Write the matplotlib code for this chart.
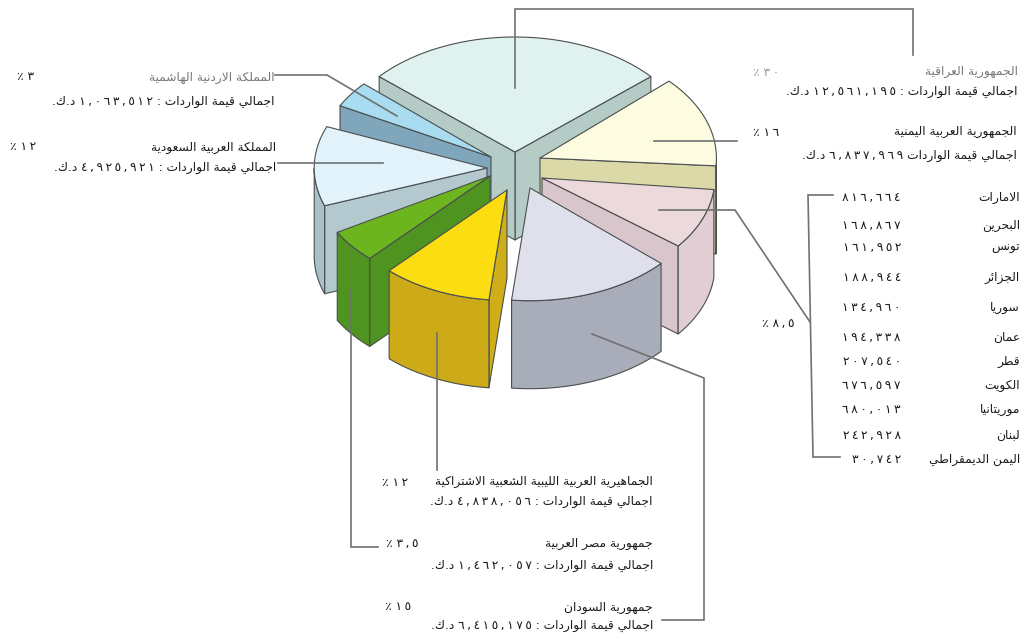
import re
import numpy as np
import matplotlib
matplotlib.use("Agg")
import matplotlib.pyplot as plt
from matplotlib.patches import Polygon

# ---------- data ----------
countries = ["الجمهورية العراقية", "الجمهورية العربية اليمنية", "", "جمهورية السودان",
             "الجماهيرية العربية الليبية الشعبية الاشتراكية", "جمهورية مصر العربية",
             "المملكة العربية السعودية", "المملكة الاردنية الهاشمية"]
shares = [30, 16, 8.5, 15, 12, 3.5, 12, 3]
totals = [12561195, 6837969, None, 6415175, 4838056, 1462057, 4925921, 1063512]
others_names = ["الامارات", "البحرين", "تونس", "الجزائر", "سوريا", "عمان", "قطر",
                "الكويت", "موريتانيا", "لبنان", "اليمن الديمقراطي"]
others_values = [816664, 168867, 161952, 188944, 134960, 194338, 207540,
                 676597, 680013, 242928, 30742]

# drawn geometry of each slice (the printed pie is hand drawn, not to scale)
theta_lo = [41, -4, -38, -96, -133, -150, 158, 138]
theta_hi = [139, 43, -6, -42, -96, -133, 200, 152]
apex_x = [515, 540, 542, 530, 507, 490, 487, 491]
apex_y = [152, 158, 178, 188, 190, 176, 168, 157]
radius = [1.0, 0.98, 0.96, 0.98, 0.96, 0.98, 0.96, 0.95]
top_col = ["#e0f2ef", "#fdfbe0", "#ecd9dc", "#e0e0ec", "#fbdd12", "#6cb51f", "#e2f2fa", "#a9dcf0"]
face_col = ["#b5cbc5", "#dcd9a8", "#d8c6cc", "#d8d8e0", "#cfae1a", "#4f9420", "#b4c8d0", "#7fa6ba"]
outer_col = ["#b5cbc5", "#dcd9a8", "#e0ced4", "#a9adb9", "#ccaa18", "#4f9420", "#a9c0cb", "#7fa6ba"]
draw_order = [0, 7, 6, 1, 2, 5, 4, 3]
A, B, DEPTH = 180, 115, 88

# ---------- Arabic shaping: matplotlib draws glyphs without joining them ----------
def forms(first, n):
    return [chr(first + i) for i in range(n)]
TABLE = {}
for ch, first, n in [("آ", 0xFE81, 2), ("أ", 0xFE83, 2), ("إ", 0xFE87, 2), ("ئ", 0xFE89, 4),
                     ("ا", 0xFE8D, 2), ("ب", 0xFE8F, 4), ("ة", 0xFE93, 2), ("ت", 0xFE95, 4),
                     ("ج", 0xFE9D, 4), ("ح", 0xFEA1, 4), ("خ", 0xFEA5, 4), ("د", 0xFEA9, 2),
                     ("ذ", 0xFEAB, 2), ("ر", 0xFEAD, 2), ("ز", 0xFEAF, 2), ("س", 0xFEB1, 4),
                     ("ش", 0xFEB5, 4), ("ص", 0xFEB9, 4), ("ض", 0xFEBD, 4), ("ط", 0xFEC1, 4),
                     ("ظ", 0xFEC5, 4), ("ع", 0xFEC9, 4), ("غ", 0xFECD, 4), ("ف", 0xFED1, 4),
                     ("ق", 0xFED5, 4), ("ك", 0xFED9, 4), ("ل", 0xFEDD, 4), ("م", 0xFEE1, 4),
                     ("ن", 0xFEE5, 4), ("ه", 0xFEE9, 4), ("و", 0xFEED, 2), ("ي", 0xFEF1, 4)]:
    TABLE[ch] = forms(first, n)

def shape(text):
    text = text.replace("لا", "\uFEFB")
    out = []
    for i, c in enumerate(text):
        prev = text[i - 1] if i else " "
        nxt = text[i + 1] if i + 1 < len(text) else " "
        if c == "\uFEFB":
            out.append("\uFEFC" if prev in TABLE and len(TABLE[prev]) == 4 else c)
        elif c in TABLE:
            f = TABLE[c]
            join_prev = prev in TABLE and len(TABLE[prev]) == 4
            join_next = nxt in TABLE or nxt == "\uFEFB"
            if len(f) == 2:
                out.append(f[1] if join_prev else f[0])
            elif join_prev and join_next:
                out.append(f[3])
            elif join_prev:
                out.append(f[1])
            elif join_next:
                out.append(f[2])
            else:
                out.append(f[0])
        else:
            out.append(c)
    return "".join(out)

NUM = r"[٠-٩]+(?:,[٠-٩]+)*"
def visual(text):
    parts = re.split("(" + NUM + ")", shape(text))
    return "".join("\u2009".join(p) if re.fullmatch(NUM, p) else p[::-1] for p in reversed(parts))

def ar(x):
    return f"{x:,}".translate(str.maketrans("0123456789", "٠١٢٣٤٥٦٧٨٩"))

def pct(x):
    s = str(x).replace(".", ",").translate(str.maketrans("0123456789", "٠١٢٣٤٥٦٧٨٩"))
    return s + " ٪"

def total_line(v, colon=True):
    return f"اجمالي قيمة الواردات {': ' if colon else ''}{ar(v)} د.ك."

# ---------- figure ----------
plt.rcParams["font.family"] = ["DejaVu Sans"]
fig = plt.figure(figsize=(10.25, 6.43), dpi=100, facecolor="white")
ax = fig.add_axes([0, 0, 1, 1])
ax.set_xlim(0, 1025)
ax.set_ylim(643, 0)
ax.axis("off")

EDGE = "#4a4f4f"
def poly(pts, col, z):
    ax.add_patch(Polygon(pts, closed=True, facecolor=col, edgecolor=EDGE, lw=0.8, joinstyle="round", zorder=z))

for z, i in enumerate(draw_order):
    cx, cy, r = apex_x[i], apex_y[i], radius[i]
    def pt(t):
        t = np.radians(t)
        return np.column_stack([cx + A * r * np.cos(t), cy - B * r * np.sin(t)])
    base = 10 + z * 4
    lo, hi = theta_lo[i], theta_hi[i]
    apex = np.array([[cx, cy]])
    for edge in (lo, hi):
        visible = (edge == lo and np.cos(np.radians(lo)) > 0) or (edge == hi and np.cos(np.radians(hi)) < 0)
        if visible:
            p = pt([edge])
            poly(np.vstack([apex, p, p + [0, DEPTH], apex + [0, DEPTH]]), face_col[i], base)
    # the rim is seen only where the circle faces the viewer
    ts = np.linspace(lo, hi, 80)
    ts = ts[np.sin(np.radians(ts)) <= 0]
    if len(ts) > 1:
        rim = pt(ts)
        poly(np.vstack([rim, (rim + [0, DEPTH])[::-1]]), outer_col[i], base + 1)
    poly(np.vstack([apex, pt(np.linspace(lo, hi, 80))]), top_col[i], base + 2)

# leader lines
LEAD = "#6f7272"
leaders = [([515, 515, 913, 913], [88, 9, 9, 55]),
           ([654, 737], [141, 141]),
           ([659, 735, 810], [210, 210, 322]),
           ([833, 808, 813, 840], [195, 195, 457, 457]),
           ([592, 704, 704, 662], [334, 378, 620, 620]),
           ([437, 437], [333, 470]),
           ([351, 351, 378], [290, 547, 547]),
           ([383, 278], [163, 163]),
           ([397, 327, 275], [116, 75, 75])]
for xs, ys in leaders:
    ax.plot(xs, ys, color=LEAD, lw=1.2, solid_joinstyle="miter", zorder=100)

# labels
FS = 8.8
def label(x, y, s, ha="right", color="#1a1a1a", fs=FS):
    ax.text(x, y, visual(s), ha=ha, va="center", fontsize=fs, color=color, zorder=110)

placement = {0: (1018, 72, 91, 766, "#777777"), 1: (1017, 132, 155, 766, "#1a1a1a"),
             3: (653, 607, 626, 398, "#1a1a1a"), 4: (653, 482, 502, 395, "#1a1a1a"),
             5: (653, 543, 565, 402, "#1a1a1a"), 6: (276, 147, 168, 23, "#1a1a1a"),
             7: (275, 77, 101, 26, "#777777")}
for i, (xr, y1, y2, xp, col) in placement.items():
    label(xr, y1, countries[i], color=col)
    label(xr, y2, total_line(totals[i], colon=i != 1))
    label(xp, y1, pct(shares[i]), ha="center", color="#999999" if i == 0 else "#1a1a1a")
label(778, 323, pct(shares[2]), ha="center")

others_y = [198, 225, 248, 278, 308, 337, 362, 385, 410, 435, 460]
for n, v, y in zip(others_names, others_values, others_y):
    label(1020, y, n)
    label(901, y, ar(v))

fig.savefig("out.png", dpi=100, facecolor="white")
